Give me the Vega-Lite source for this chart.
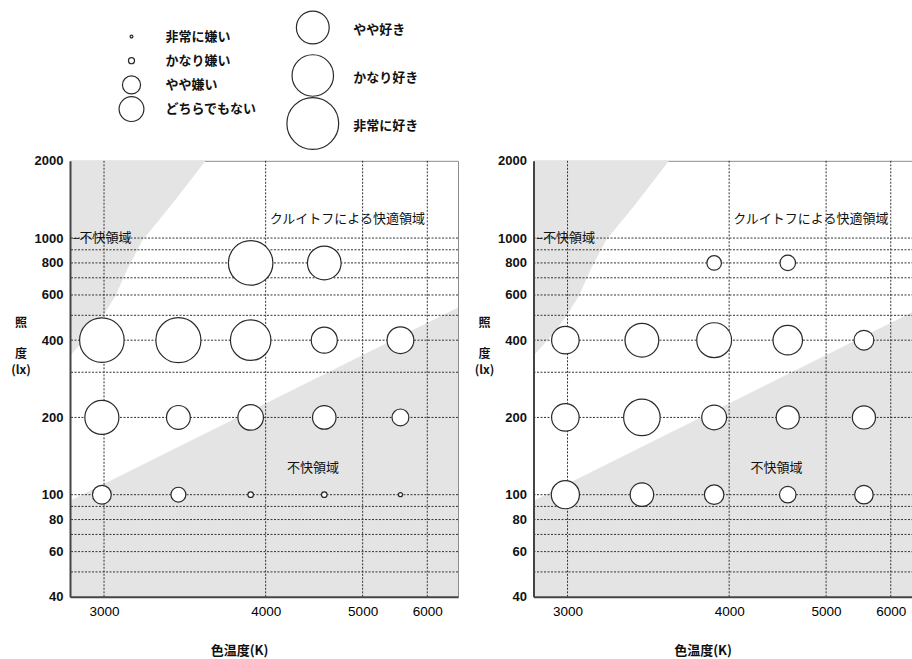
{
  "$schema": "https://vega.github.io/schema/vega-lite/v6.json",
  "background": "white",
  "padding": {"left": 10, "top": 8.5, "right": 0, "bottom": 0},
  "spacing": 37.3,
  "bounds": "flush",
  "datasets": {
    "legL": [
      {"label": "非常に嫌い", "score": 1, "rank": 1, "col": 1},
      {"label": "かなり嫌い", "score": 2, "rank": 2, "col": 1},
      {"label": "やや嫌い", "score": 3, "rank": 3, "col": 1},
      {"label": "どちらでもない", "score": 4, "rank": 4, "col": 1}
    ],
    "legR": [
      {"label": "やや好き", "score": 5, "rank": 1, "col": 2},
      {"label": "かなり好き", "score": 6, "rank": 2, "col": 2},
      {"label": "非常に好き", "score": 7, "rank": 3, "col": 2}
    ],
    "bubbles": [
      {"panel": "A", "T": 2990, "lx": 100, "score": 3.09},
      {"panel": "A", "T": 3390, "lx": 100, "score": 2.63},
      {"panel": "A", "T": 3880, "lx": 100, "score": 1.77},
      {"panel": "A", "T": 4550, "lx": 100, "score": 1.77},
      {"panel": "A", "T": 5540, "lx": 100, "score": 1.30},
      {"panel": "A", "T": 2990, "lx": 200, "score": 5.13},
      {"panel": "A", "T": 3390, "lx": 200, "score": 3.83},
      {"panel": "A", "T": 3880, "lx": 200, "score": 4.08},
      {"panel": "A", "T": 4550, "lx": 200, "score": 3.78},
      {"panel": "A", "T": 5540, "lx": 200, "score": 2.85},
      {"panel": "A", "T": 2990, "lx": 400, "score": 6.27},
      {"panel": "A", "T": 3390, "lx": 400, "score": 6.32},
      {"panel": "A", "T": 3880, "lx": 400, "score": 5.87},
      {"panel": "A", "T": 4550, "lx": 400, "score": 4.14},
      {"panel": "A", "T": 5540, "lx": 400, "score": 4.22},
      {"panel": "A", "T": 3880, "lx": 800, "score": 6.27},
      {"panel": "A", "T": 4550, "lx": 800, "score": 5.10},
      {"panel": "B", "T": 2990, "lx": 100, "score": 4.38},
      {"panel": "B", "T": 3390, "lx": 100, "score": 3.78},
      {"panel": "B", "T": 3880, "lx": 100, "score": 3.18},
      {"panel": "B", "T": 4550, "lx": 100, "score": 2.81},
      {"panel": "B", "T": 5540, "lx": 100, "score": 3.05},
      {"panel": "B", "T": 2990, "lx": 200, "score": 4.31},
      {"panel": "B", "T": 3390, "lx": 200, "score": 5.40},
      {"panel": "B", "T": 3880, "lx": 200, "score": 4.00},
      {"panel": "B", "T": 4550, "lx": 200, "score": 3.72},
      {"panel": "B", "T": 5540, "lx": 200, "score": 3.72},
      {"panel": "B", "T": 2990, "lx": 400, "score": 4.31},
      {"panel": "B", "T": 3390, "lx": 400, "score": 5.10},
      {"panel": "B", "T": 3880, "lx": 400, "score": 5.21},
      {"panel": "B", "T": 4550, "lx": 400, "score": 4.55},
      {"panel": "B", "T": 5540, "lx": 400, "score": 3.22},
      {"panel": "B", "T": 3880, "lx": 800, "score": 2.60},
      {"panel": "B", "T": 4550, "lx": 800, "score": 2.70}
    ],
    "upper": [
      {"T": 2850, "lx": 348},
      {"T": 2938, "lx": 427},
      {"T": 2999, "lx": 502},
      {"T": 3054, "lx": 596},
      {"T": 3113, "lx": 759},
      {"T": 3188, "lx": 976},
      {"T": 3345, "lx": 1336},
      {"T": 3559, "lx": 2000}
    ],
    "lower": [
      {"T": 2850, "lx": 94.6},
      {"T": 6630, "lx": 536}
    ],
    "hgrid": [
      {"lx": 50}, {"lx": 60}, {"lx": 70}, {"lx": 80}, {"lx": 90}, {"lx": 100},
      {"lx": 200}, {"lx": 300}, {"lx": 400}, {"lx": 500}, {"lx": 600}, {"lx": 700},
      {"lx": 800}, {"lx": 900}, {"lx": 1000}
    ],
    "vgrid": [{"T": 3000}, {"T": 4000}, {"T": 5000}, {"T": 6000}],
    "notes": [
      {"T": 4810, "lx": 1188, "label": "クルイトフによる快適領域"},
      {"T": 2991, "lx": 1000, "label": "–不快領域"},
      {"T": 4432, "lx": 127.6, "label": "不快領域"}
    ]
  },
  "resolve": {"scale": {"size": "independent", "x": "independent", "y": "independent"}},
  "vconcat": [
    {
      "width": 388,
      "height": 96,
      "view": {"stroke": null},
      "resolve": {"scale": {"y": "independent"}},
      "layer": [
        {
          "data": {"name": "legL"},
          "mark": {"type": "point", "shape": "circle", "filled": false, "fill": "white", "stroke": "#2a2a2a", "strokeWidth": 1.2, "opacity": 1},
          "encoding": {
            "x": {"field": "col", "type": "quantitative", "axis": null, "scale": {"domain": [0.6608, 2.801], "nice": false, "zero": false}},
            "y": {"field": "rank", "type": "quantitative", "axis": null, "scale": {"domain": [0.628, 4.595], "reverse": true, "nice": false, "zero": false}},
            "size": {"field": "score", "type": "quantitative", "legend": null,
              "scale": {"type": "linear", "zero": false, "nice": false, "domain": [1, 2, 3, 4, 5, 6, 7], "range": [7.8, 37.2, 327.6, 615, 1076, 1722, 2683]}}
          }
        },
        {
          "data": {"name": "legL"},
          "mark": {"type": "text", "align": "left", "baseline": "middle", "dx": 34, "font": "Noto Sans CJK JP", "fontSize": 13, "fontWeight": "bold", "color": "#111"},
          "encoding": {
            "x": {"field": "col", "type": "quantitative", "axis": null},
            "y": {"field": "rank", "type": "quantitative", "axis": null, "scale": {"domain": [0.628, 4.595], "reverse": true, "nice": false, "zero": false}},
            "text": {"field": "label"}
          }
        },
        {
          "data": {"name": "legR"},
          "mark": {"type": "point", "shape": "circle", "filled": false, "fill": "white", "stroke": "#2a2a2a", "strokeWidth": 1.2, "opacity": 1},
          "encoding": {
            "x": {"field": "col", "type": "quantitative", "axis": null},
            "y": {"field": "rank", "type": "quantitative", "axis": null, "scale": {"domain": [1, 3], "reverse": true, "nice": false, "zero": false}},
            "size": {"field": "score", "type": "quantitative", "legend": null,
              "scale": {"type": "linear", "zero": false, "nice": false, "domain": [1, 2, 3, 4, 5, 6, 7], "range": [7.8, 37.2, 327.6, 615, 1076, 1722, 2683]}}
          }
        },
        {
          "data": {"name": "legR"},
          "mark": {"type": "text", "align": "left", "baseline": "middle", "dx": 40.4, "dy": 2, "font": "Noto Sans CJK JP", "fontSize": 13, "fontWeight": "bold", "color": "#111"},
          "encoding": {
            "x": {"field": "col", "type": "quantitative", "axis": null},
            "y": {"field": "rank", "type": "quantitative", "axis": null, "scale": {"domain": [1, 3], "reverse": true, "nice": false, "zero": false}},
            "text": {"field": "label"}
          }
        }
      ]
    },
    {
      "spacing": 75.5,
      "bounds": "flush",
      "resolve": {"scale": {"size": "independent", "x": "independent", "y": "independent"}},
      "hconcat": [
        {
          "width": 388,
          "height": 436,
          "layer": [
            {
              "data": {"name": "upper"},
              "mark": {"type": "area", "color": "#e4e4e4", "clip": true},
              "encoding": {
                "x": {
                  "field": "T", "type": "quantitative",
                  "scale": {"type": "pow", "exponent": -1, "domain": [2850, 6630], "nice": false, "zero": false},
                  "axis": {"title": "色温度(K)", "values": [3000, 4000, 5000, 6000], "format": "d", "titleX": 169, "titleY": 54, "zindex": 1}
                },
                "y": {
                  "field": "lx", "type": "quantitative",
                  "scale": {"type": "log", "domain": [40, 2000], "nice": false},
                  "axis": {"title": ["照", "\u2800", "度", "(lx)"], "values": [40, 60, 80, 100, 200, 400, 600, 800, 1000, 2000], "format": "d", "zindex": 1}
                },
                "y2": {"datum": 2000}
              }
            },
            {
              "data": {"name": "lower"},
              "mark": {"type": "area", "color": "#e4e4e4", "clip": true},
              "encoding": {
                "x": {"field": "T", "type": "quantitative"},
                "y": {"field": "lx", "type": "quantitative"},
                "y2": {"datum": 40}
              }
            },
            {
              "data": {"name": "hgrid"},
              "mark": {"type": "rule", "color": "#333", "strokeWidth": 1, "strokeDash": [2, 1.5]},
              "encoding": {"y": {"field": "lx", "type": "quantitative"}}
            },
            {
              "data": {"name": "vgrid"},
              "mark": {"type": "rule", "color": "#333", "strokeWidth": 1, "strokeDash": [2, 1.5]},
              "encoding": {"x": {"field": "T", "type": "quantitative"}}
            },
            {
              "data": {"name": "notes"},
              "mark": {"type": "text", "font": "Noto Sans CJK JP", "fontSize": 13, "color": "#111", "align": "center", "baseline": "middle"},
              "encoding": {
                "x": {"field": "T", "type": "quantitative"},
                "y": {"field": "lx", "type": "quantitative"},
                "text": {"field": "label"}
              }
            },
            {
              "data": {"name": "bubbles"},
              "transform": [{"filter": "datum.panel == 'A'"}],
              "mark": {"type": "point", "shape": "circle", "filled": false, "fill": "white", "stroke": "#2a2a2a", "strokeWidth": 1.2, "opacity": 1},
              "encoding": {
                "x": {"field": "T", "type": "quantitative"},
                "y": {"field": "lx", "type": "quantitative"},
                "size": {
                  "field": "score", "type": "quantitative", "legend": null,
                  "scale": {"type": "linear", "zero": false, "nice": false, "domain": [1, 2, 3, 4, 5, 6, 7], "range": [7.8, 37.2, 327.6, 615, 1076, 1722, 2683]}
                }
              }
            }
          ]
        },
        {
          "width": 380,
          "height": 436,
          "layer": [
            {
              "data": {"name": "upper"},
              "mark": {"type": "area", "color": "#e4e4e4", "clip": true},
              "encoding": {
                "x": {
                  "field": "T", "type": "quantitative",
                  "scale": {"type": "pow", "exponent": -1, "domain": [2850, 6454], "nice": false, "zero": false},
                  "axis": {"title": "色温度(K)", "values": [3000, 4000, 5000, 6000], "format": "d", "titleX": 169, "titleY": 54, "zindex": 1}
                },
                "y": {
                  "field": "lx", "type": "quantitative",
                  "scale": {"type": "log", "domain": [40, 2000], "nice": false},
                  "axis": {"title": ["照", "\u2800", "度", "(lx)"], "values": [40, 60, 80, 100, 200, 400, 600, 800, 1000, 2000], "format": "d", "zindex": 1}
                },
                "y2": {"datum": 2000}
              }
            },
            {
              "data": {"name": "lower"},
              "mark": {"type": "area", "color": "#e4e4e4", "clip": true},
              "encoding": {
                "x": {"field": "T", "type": "quantitative"},
                "y": {"field": "lx", "type": "quantitative"},
                "y2": {"datum": 40}
              }
            },
            {
              "data": {"name": "hgrid"},
              "mark": {"type": "rule", "color": "#333", "strokeWidth": 1, "strokeDash": [2, 1.5]},
              "encoding": {"y": {"field": "lx", "type": "quantitative"}}
            },
            {
              "data": {"name": "vgrid"},
              "mark": {"type": "rule", "color": "#333", "strokeWidth": 1, "strokeDash": [2, 1.5]},
              "encoding": {"x": {"field": "T", "type": "quantitative"}}
            },
            {
              "data": {"name": "notes"},
              "mark": {"type": "text", "font": "Noto Sans CJK JP", "fontSize": 13, "color": "#111", "align": "center", "baseline": "middle"},
              "encoding": {
                "x": {"field": "T", "type": "quantitative"},
                "y": {"field": "lx", "type": "quantitative"},
                "text": {"field": "label"}
              }
            },
            {
              "data": {"name": "bubbles"},
              "transform": [{"filter": "datum.panel == 'B'"}],
              "mark": {"type": "point", "shape": "circle", "filled": false, "fill": "white", "stroke": "#2a2a2a", "strokeWidth": 1.2, "opacity": 1},
              "encoding": {
                "x": {"field": "T", "type": "quantitative"},
                "y": {"field": "lx", "type": "quantitative"},
                "size": {
                  "field": "score", "type": "quantitative", "legend": null,
                  "scale": {"type": "linear", "zero": false, "nice": false, "domain": [1, 2, 3, 4, 5, 6, 7], "range": [7.8, 37.2, 327.6, 615, 1076, 1722, 2683]}
                }
              }
            }
          ]
        }
      ]
    }
  ],
  "config": {
    "font": "Noto Sans CJK JP",
    "view": {"stroke": "#8c8c8c", "strokeWidth": 1},
    "axisX": {
      "grid": false, "ticks": false, "domainColor": "#444", "domainWidth": 2,
      "labelFont": "Liberation Sans", "labelFontSize": 13.5, "labelColor": "#000", "labelPadding": 8,
      "labelFlush": false, "labelOverlap": false,
      "titleFont": "Noto Sans CJK JP", "titleFontSize": 13, "titleFontWeight": "bold", "titleColor": "#111",
      "titleAlign": "center", "titleBaseline": "middle"
    },
    "axisY": {
      "grid": false, "ticks": false, "domainColor": "#444", "domainWidth": 2,
      "labelFont": "Liberation Sans", "labelFontSize": 13, "labelFontWeight": "bold", "labelColor": "#111", "labelPadding": 7,
      "labelFlush": false, "labelOverlap": false,
      "titleFont": "Noto Sans CJK JP", "titleFontSize": 12, "titleFontWeight": "bold", "titleColor": "#111",
      "titleAngle": 0, "titleAlign": "center", "titleBaseline": "middle", "titleX": -49.5, "titleY": 162, "titleLineHeight": 15.5
    }
  }
}
